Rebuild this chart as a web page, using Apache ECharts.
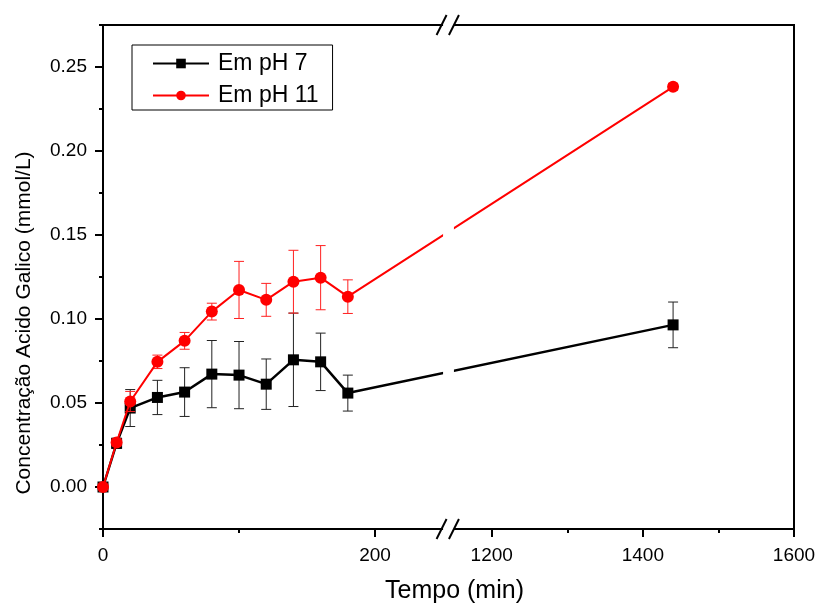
<!DOCTYPE html>
<html>
<head>
<meta charset="utf-8">
<script src="https://cdn.jsdelivr.net/npm/echarts@6/dist/echarts.min.js"></script>
<style>
  html, body { margin: 0; padding: 0; background: #fff; }
  #main { width: 819px; height: 606px; }
</style>
</head>
<body>
<div id="main"></div>
<script>
// tempo (min) e concentração (mmol/L)
var time = [0, 10, 20, 40, 60, 80, 100, 120, 140, 160, 180, 1440];
var ph7 = [0, 0.026, 0.047, 0.0533, 0.0565, 0.0672, 0.0666, 0.0612, 0.0757, 0.0745, 0.0559, 0.0965];
var ph7Err = [0, 0.003, 0.011, 0.0102, 0.0145, 0.020, 0.020, 0.015, 0.0278, 0.0171, 0.0107, 0.0136];
var ph11 = [0, 0.0265, 0.0509, 0.0745, 0.087, 0.1044, 0.1173, 0.1114, 0.1222, 0.1246, 0.1133, 0.2382];
var ph11Err = [0, 0.002, 0.006, 0.004, 0.005, 0.005, 0.017, 0.0098, 0.0187, 0.0191, 0.010, 0.002];

var xMajor = [0, 200, 1200, 1400, 1600];
var xMinor = [100, 1300, 1500];
var yMajor = [0, 0.05, 0.10, 0.15, 0.20, 0.25];
var yMinor = [-0.025, 0.025, 0.075, 0.125, 0.175, 0.225, 0.275];

// quebra do eixo x
var BREAK_FROM = 250, BREAK_TO = 1150, GAP = 8, SHRINK = 250 / 450;
function mapX(t) {
  return t <= BREAK_FROM ? t : BREAK_FROM + GAP + (t - BREAK_TO) * SHRINK;
}
function unmapX(v) {
  return v <= BREAK_FROM ? v : BREAK_TO + (v - BREAK_FROM - GAP) / SHRINK;
}
var X_MAX = mapX(1600);

var FONT = 'Liberation Sans, Arial, sans-serif';

function pairs(ys) {
  return time.map(function (t, i) { return [mapX(t), ys[i]]; });
}
function errData(ys, es) {
  return time.map(function (t, i) { return [mapX(t), ys[i] - es[i], ys[i] + es[i]]; });
}
function errRender(color) {
  return function (params, api) {
    var x = api.value(0);
    var top = api.coord([x, api.value(2)]);
    var bot = api.coord([x, api.value(1)]);
    var w = 5;
    var st = { stroke: color, lineWidth: 1 };
    return {
      type: 'group',
      children: [
        { type: 'line', shape: { x1: top[0], y1: top[1], x2: bot[0], y2: bot[1] }, style: st },
        { type: 'line', shape: { x1: top[0] - w, y1: top[1], x2: top[0] + w, y2: top[1] }, style: st },
        { type: 'line', shape: { x1: bot[0] - w, y1: bot[1], x2: bot[0] + w, y2: bot[1] }, style: st }
      ]
    };
  };
}

var chart = echarts.init(document.getElementById('main'));
var option = {
  backgroundColor: '#fff',
  animation: false,
  textStyle: { fontFamily: FONT, color: '#000' },
  grid: {
    left: 103, right: 25, top: 25, bottom: 77,
    outerBoundsMode: 'none', containLabel: false,
    show: true, borderColor: '#000', borderWidth: 2
  },
  legend: {
    orient: 'vertical',
    left: 132, top: 45,
    data: ['Em pH 7', 'Em pH 11'],
    itemWidth: 56, itemHeight: 12, itemGap: 9,
    padding: [7, 14, 3, 20],
    borderColor: '#000', borderWidth: 1,
    textStyle: { fontSize: 23, color: '#000', fontFamily: FONT, padding: [0, 0, 0, 4] }
  },
  xAxis: [{
    type: 'value', min: 0, max: X_MAX,
    name: 'Tempo (min)', nameLocation: 'middle', nameGap: 50,
    nameTextStyle: { fontSize: 25, color: '#000', fontFamily: FONT, padding: [0, 0, 0, 12] },
    splitLine: { show: false },
    axisLine: { onZero: false, lineStyle: { color: '#000', width: 2 } },
    axisTick: { customValues: xMajor.map(mapX), length: 8, lineStyle: { color: '#000', width: 2 } },
    axisLabel: {
      customValues: xMajor.map(mapX), margin: 17, fontSize: 19, color: '#000', fontFamily: FONT,
      formatter: function (v) { return Math.round(unmapX(v)); }
    }
  }, {
    type: 'value', min: 0, max: X_MAX, position: 'bottom', offset: 0,
    splitLine: { show: false },
    axisLine: { show: false, onZero: false },
    axisTick: { customValues: xMinor.map(mapX), length: 4, lineStyle: { color: '#000', width: 2 } },
    axisLabel: { show: false }
  }],
  yAxis: [{
    type: 'value', min: -0.025, max: 0.275,
    name: 'Concentração Acido Galico (mmol/L)', nameLocation: 'middle', nameGap: 68,
    nameTextStyle: { fontSize: 21, color: '#000', fontFamily: FONT, padding: [0, 92, 0, 0] },
    splitLine: { show: false },
    axisLine: { show: true, onZero: false, lineStyle: { color: '#000', width: 2 } },
    axisTick: { customValues: yMajor, length: 8, lineStyle: { color: '#000', width: 2 } },
    axisLabel: {
      customValues: yMajor, margin: 16, fontSize: 19, color: '#000', fontFamily: FONT,
      formatter: function (v) { return v.toFixed(2); }
    }
  }, {
    type: 'value', min: -0.025, max: 0.275, position: 'left', offset: 0,
    splitLine: { show: false },
    axisLine: { show: false, onZero: false },
    axisTick: { customValues: yMinor, length: 4, lineStyle: { color: '#000', width: 2 } },
    axisLabel: { show: false }
  }],
  series: [
    {
      name: 'Em pH 7', type: 'line', data: pairs(ph7), z: 2,
      symbol: 'rect', symbolSize: 11,
      itemStyle: { color: '#000' },
      lineStyle: { color: '#000', width: 2.5 }
    },
    {
      name: 'err7', type: 'custom', z: 2,
      renderItem: errRender('#222'), data: errData(ph7, ph7Err),
      encode: { x: 0, y: [1, 2] }
    },
    {
      name: 'Em pH 11', type: 'line', data: pairs(ph11), z: 4,
      symbol: 'circle', symbolSize: 12,
      itemStyle: { color: '#ff0000' },
      lineStyle: { color: '#ff0000', width: 2 }
    },
    {
      name: 'err11', type: 'custom', z: 3,
      renderItem: errRender('#ff2020'), data: errData(ph11, ph11Err),
      encode: { x: 0, y: [1, 2] }
    }
  ]
};
chart.setOption(option);

// marca da quebra: faixa branca e "//" em cima e em baixo
var xa = chart.convertToPixel({ xAxisIndex: 0 }, BREAK_FROM);
var xb = chart.convertToPixel({ xAxisIndex: 0 }, BREAK_FROM + GAP);
var yTop = chart.convertToPixel({ yAxisIndex: 0 }, 0.275);
var yBot = chart.convertToPixel({ yAxisIndex: 0 }, -0.025);
var marks = [{
  type: 'rect', z: 100,
  shape: { x: xa, y: yTop - 4, width: xb - xa, height: yBot - yTop + 8 },
  style: { fill: '#fff' }
}];
[xa - 1.5, xb].forEach(function (x) {
  [yTop, yBot].forEach(function (y) {
    marks.push({
      type: 'line', z: 101,
      shape: { x1: x - 5, y1: y + 10, x2: x + 5, y2: y - 10 },
      style: { stroke: '#000', lineWidth: 2 }
    });
  });
});
chart.setOption({ graphic: marks });
</script>
</body>
</html>
